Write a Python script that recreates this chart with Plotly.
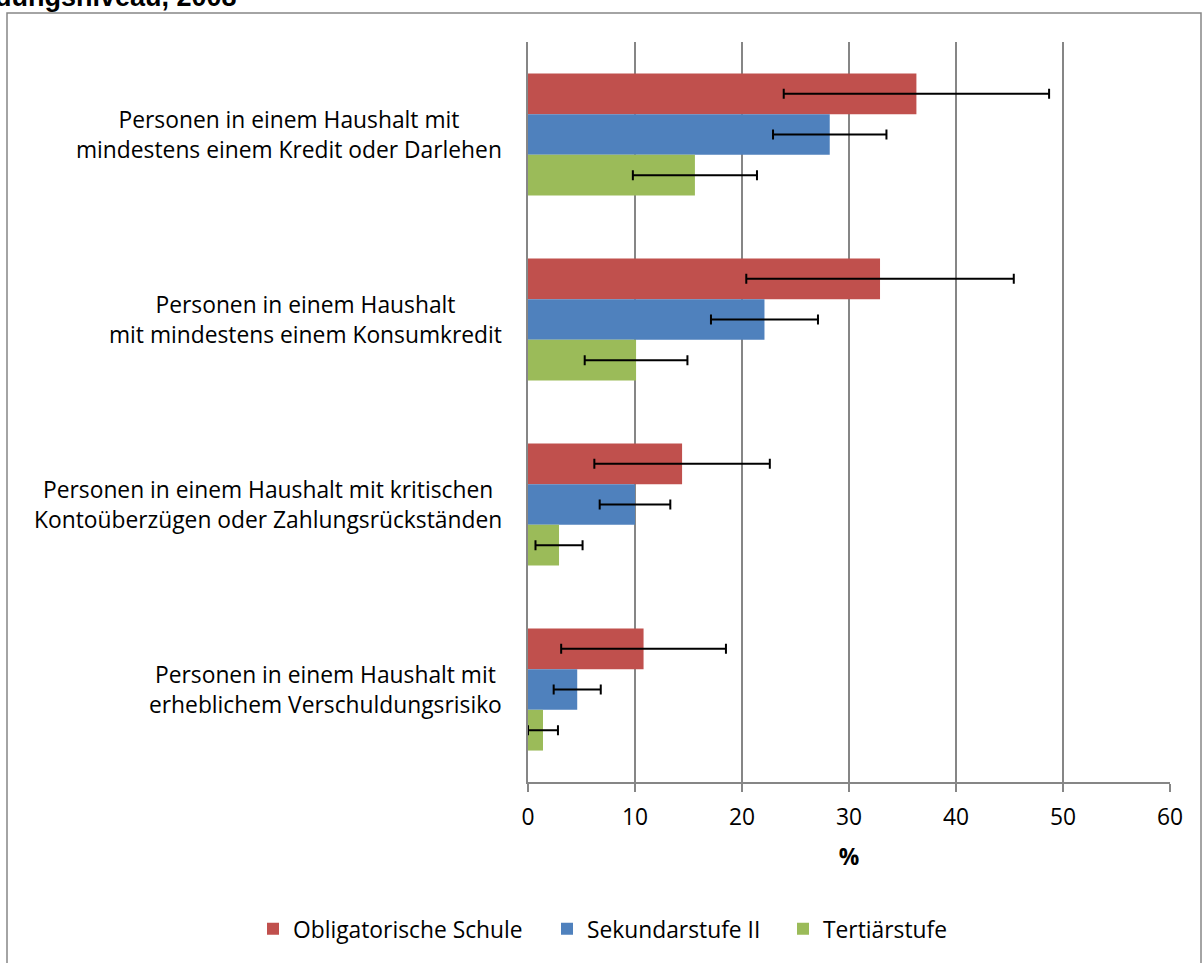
import plotly.graph_objects as go

categories = [
    "Personen in einem Haushalt mit<br>mindestens einem Kredit oder Darlehen",
    "Personen in einem Haushalt<br>mit mindestens einem Konsumkredit",
    "Personen in einem Haushalt mit kritischen<br>Kontoüberzügen oder Zahlungsrückständen",
    "Personen in einem Haushalt mit<br>erheblichem Verschuldungsrisiko",
]
series_names = ["Obligatorische Schule", "Sekundarstufe II", "Tertiärstufe"]
colors = ["#C0504D", "#4F81BD", "#9BBB59"]

oblig = [36.3, 32.9, 14.4, 10.8]
oblig_err = [12.4, 12.5, 8.2, 7.7]
sek = [28.2, 22.1, 10.0, 4.6]
sek_err = [5.3, 5.0, 3.3, 2.2]
tert = [15.6, 10.1, 2.9, 1.4]
tert_err = [5.8, 4.8, 2.2, 1.4]

x_ticks = [0, 10, 20, 30, 40, 50, 60]

FONT = "Open Sans"
FS = 22.8
W, H = 1203, 963
L, R, T, B = 528, 33, 42, 181
pw, ph = W - L - R, H - T - B

def px_x(px):
    return (px - L) / pw

def px_y(py):
    return (H - B - py) / ph

legend_ids = ["legend", "legend2", "legend3"]
legend_text_x = [293, 587, 823]

fig = go.Figure()
for name, vals, errs, col, lg in zip(series_names, [oblig, sek, tert], [oblig_err, sek_err, tert_err], colors, legend_ids):
    fig.add_trace(go.Bar(
        name=name, y=categories, x=vals, orientation="h",
        marker=dict(color=col, line=dict(width=0)),
        error_x=dict(type="data", array=errs, visible=True, color="black", thickness=2, width=5),
        legend=lg,
    ))

annotations = []
for c in categories:
    annotations.append(dict(
        x=px_x(504), xref="paper", y=c, yref="y", text=c, showarrow=False,
        xanchor="right", align="center", font=dict(family=FONT, size=FS, color="black"),
    ))
annotations.append(dict(
    x=px_x(239), xref="paper", y=px_y(14), yref="paper", text="<b>dungsniveau, 2008</b>",
    showarrow=False, xanchor="right", yanchor="bottom",
    font=dict(family="Liberation Sans", size=27, color="black"),
))

legends = {}
for lg, tx in zip(legend_ids, legend_text_x):
    legends[lg] = dict(
        orientation="h", x=px_x(tx - 40), xanchor="left", y=px_y(929), yanchor="middle",
        font=dict(family=FONT, size=FS), bgcolor="rgba(0,0,0,0)",
    )

fig.update_layout(
    width=W, height=H,
    margin=dict(l=L, r=R, t=T, b=B, pad=0),
    paper_bgcolor="white", plot_bgcolor="white",
    barmode="group", bargap=0.34, bargroupgap=0,
    font=dict(family=FONT, size=FS, color="black"),
    xaxis=dict(
        range=[0, 60], tickvals=x_ticks, ticktext=[str(v) for v in x_ticks],
        showgrid=True, gridcolor="#868686", gridwidth=1.5,
        showline=True, linecolor="#868686", linewidth=1.5,
        ticks="outside", ticklen=8, tickcolor="#868686", tickwidth=1.5,
        ticklabelstandoff=6,
        zeroline=False,
        title=dict(text="<b>%</b>", font=dict(family=FONT, size=FS), standoff=18),
        tickfont=dict(family=FONT, size=FS),
    ),
    yaxis=dict(
        categoryorder="array", categoryarray=categories, autorange="reversed",
        showticklabels=False, showgrid=False, zeroline=False,
        showline=True, linecolor="#868686", linewidth=1.5, ticks="",
    ),
    annotations=annotations,
    shapes=[dict(
        type="rect", xref="paper", yref="paper",
        x0=px_x(7), x1=px_x(1201), y0=px_y(975), y1=px_y(13),
        line=dict(color="#868686", width=1.5), fillcolor="rgba(0,0,0,0)", layer="below",
    )],
    showlegend=True,
    **legends,
)

fig.write_html(
    "out.html",
    config={"displayModeBar": False},
    post_script="document.body.style.margin='0';document.body.style.overflow='hidden';",
)
